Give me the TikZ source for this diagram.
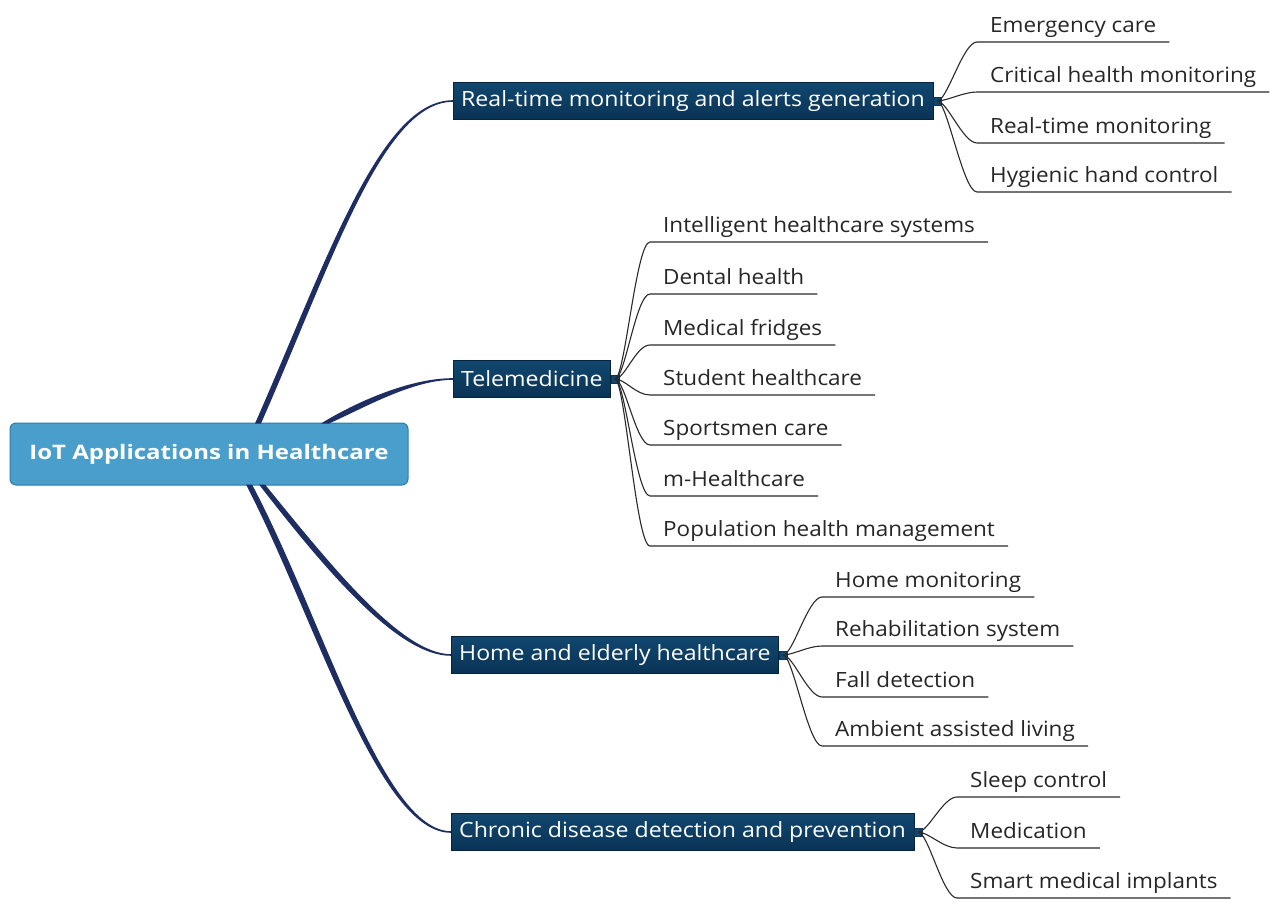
\documentclass[tikz,border=0pt]{standalone}
\usepackage{fontspec}
\setmainfont{Open Sans}
\newfontfamily\leaffont{Open Sans}[FakeStretch=1.07]
\newfontfamily\brfont{Open Sans}[FakeStretch=1.1]
\newfontfamily\rootfont{Open Sans}[FakeStretch=1.2]
\usetikzlibrary{calc}
\definecolor{rootfill}{HTML}{4A9ECB}
\definecolor{rootdraw}{HTML}{2E7BAA}
\definecolor{brtop}{HTML}{11476F}
\definecolor{brbot}{HTML}{0A3355}
\definecolor{conn}{HTML}{1E2D62}
\definecolor{leafline}{HTML}{2A2A2A}
\begin{document}
\begin{tikzpicture}[x=1pt,y=-1pt,
 rootbox/.style={draw=rootdraw, line width=1pt, fill=rootfill, rounded corners=6pt, minimum width=398pt, minimum height=62pt, text=white, font=\rootfont\fontsize{20}{24}\selectfont\bfseries, inner sep=0pt},
 branch/.style={draw=brbot!70!black, top color=brtop, bottom color=brbot, minimum height=37pt, inner xsep=8pt, inner ysep=0pt, text=white, font=\brfont\fontsize{21}{25}\selectfont, anchor=west},
 knob/.style={fill=brtop, draw=brbot, minimum size=8pt, inner sep=0pt, anchor=west},
 leaf/.style={anchor=south west, inner xsep=13pt, inner ysep=4.5pt, text height=15pt, text depth=4.5pt, font=\leaffont\fontsize{21}{25}\selectfont, text=black!85},
 leafconn/.style={draw=leafline, line width=1.1pt},
 taper/.style={fill=conn}
]
\useasboundingbox (0,0) rectangle (1280,917);

% root
\node[rootbox] (root) at (209,454) {IoT Applications in Healthcare};

% branches
\node[branch] (b1) at (453,101) {Real-time monitoring and alerts generation};
\node[branch] (b2) at (453,379) {Telemedicine};
\node[branch] (b3) at (451,655) {Home and elderly healthcare};
\node[branch] (b4) at (451,832) {Chronic disease detection and prevention};

\node[knob] (k1) at (b1.east) {};
\node[knob] (k2) at (b2.east) {};
\node[knob] (k3) at (b3.east) {};
\node[knob] (k4) at (b4.east) {};

% tapered root connectors
\fill[taper] ($(root.north)+(46,1)$) .. controls (327,260) and (380,100) .. ($(b1.west)+(0,-0.8)$)
  -- ($(b1.west)+(0,0.8)$) .. controls (383,102) and (333,260) .. ($(root.north)+(52,1)$) -- cycle;
\fill[taper] ($(root.north)+(112,1)$) .. controls (356,402) and (410,378) .. ($(b2.west)+(0,-0.8)$)
  -- ($(b2.west)+(0,0.8)$) .. controls (412,380) and (364,408) .. ($(root.north)+(120,1)$) -- cycle;
\fill[taper] ($(root.south)+(50,-1)$) .. controls (327,572) and (398,656) .. ($(b3.west)+(0,0.8)$)
  -- ($(b3.west)+(0,-0.8)$) .. controls (402,654) and (333,568) .. ($(root.south)+(56,-1)$) -- cycle;
\fill[taper] ($(root.south)+(37,-1)$) .. controls (317,622) and (378,833) .. ($(b4.west)+(0,0.8)$)
  -- ($(b4.west)+(0,-0.8)$) .. controls (382,831) and (323,618) .. ($(root.south)+(43,-1)$) -- cycle;

% leaves of b1
\node[leaf] (l11) at (977,42) {Emergency care};
\node[leaf] (l12) at (977,92) {Critical health monitoring};
\node[leaf] (l13) at (977,143) {Real-time monitoring};
\node[leaf] (l14) at (977,192) {Hygienic hand control};
% leaves of b2
\node[leaf] (l21) at (650,242) {Intelligent healthcare systems};
\node[leaf] (l22) at (650,294) {Dental health};
\node[leaf] (l23) at (650,345) {Medical fridges};
\node[leaf] (l24) at (650,395) {Student healthcare};
\node[leaf] (l25) at (650,445) {Sportsmen care};
\node[leaf] (l26) at (650,496) {m-Healthcare};
\node[leaf] (l27) at (650,546) {Population health management};
% leaves of b3
\node[leaf] (l31) at (822,597) {Home monitoring};
\node[leaf] (l32) at (822,646) {Rehabilitation system};
\node[leaf] (l33) at (822,697) {Fall detection};
\node[leaf] (l34) at (822,746) {Ambient assisted living};
% leaves of b4
\node[leaf] (l41) at (957,797) {Sleep control};
\node[leaf] (l42) at (957,848) {Medication};
\node[leaf] (l43) at (957,898) {Smart medical implants};

% leaf connectors
\foreach \k/\l in {k1/l11,k1/l12,k1/l13,k1/l14,
                   k2/l21,k2/l22,k2/l23,k2/l24,k2/l25,k2/l26,k2/l27,
                   k3/l31,k3/l32,k3/l33,k3/l34,
                   k4/l41,k4/l42,k4/l43}{
  \draw[leafconn] (\k.center) .. controls +(10,0) and +(-14,0) .. (\l.south west) -- (\l.south east);
}
\end{tikzpicture}
\end{document}
